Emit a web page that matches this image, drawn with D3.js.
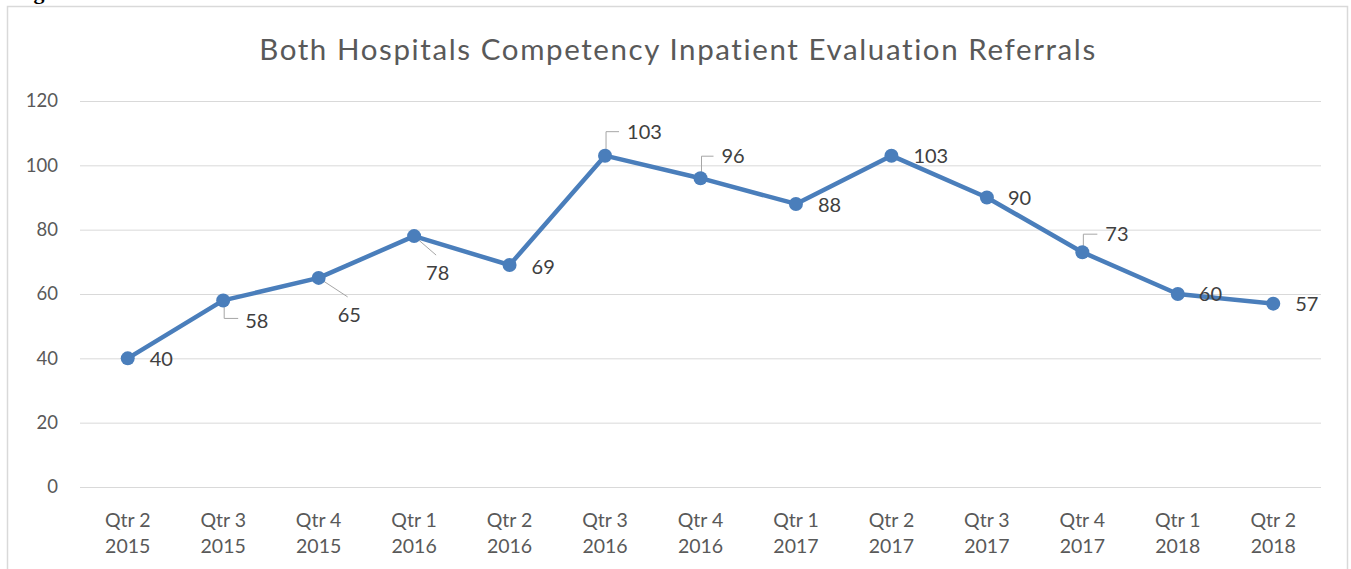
<!DOCTYPE html>
<html>
<head>
<meta charset="utf-8">
<script src="https://cdn.jsdelivr.net/npm/d3@7"></script>
<style>
  body { margin: 0; background: #fff; overflow: hidden; }
  text { font-family: Lato, "Noto Sans", sans-serif; }
</style>
</head>
<body>
<div id="chart"></div>
<script>
// data
var quarters = ["Qtr 2", "Qtr 3", "Qtr 4", "Qtr 1", "Qtr 2", "Qtr 3", "Qtr 4", "Qtr 1", "Qtr 2", "Qtr 3", "Qtr 4", "Qtr 1", "Qtr 2"];
var years    = ["2015", "2015", "2015", "2016", "2016", "2016", "2016", "2017", "2017", "2017", "2017", "2018", "2018"];
var referrals = [40, 58, 65, 78, 69, 103, 96, 88, 103, 90, 73, 60, 57];
var yTicks = [0, 20, 40, 60, 80, 100, 120];

// label placement (Excel moved some labels by hand): [dx, dy, leader]
var labelPlace = [
  [22, 0, null], [22, 20, "down"], [19, 37, "diag"], [12, 37, "diag"], [22, 2, null],
  [22, -24, "up"], [21, -22, "up"], [22, 1, null], [22, 0, null], [21, 0, null],
  [23, -18, "up"], [21, 0, null], [22, 0, null]
];

var W = 1351, H = 569;
var svg = d3.select("#chart").append("svg")
    .attr("width", W)
    .attr("height", H);

// caption of the document, mostly cut off above the frame
svg.append("text")
    .attr("x", 14)
    .attr("y", -1)
    .style("font-family", "'Liberation Serif', serif")
    .style("font-weight", "bold")
    .style("font-size", "22px")
    .text("Figure");

// chart frame
svg.append("rect")
    .attr("x", 7.5).attr("y", 6.5)
    .attr("width", 1340).attr("height", 620)
    .attr("fill", "#fff")
    .attr("stroke", "#d9d9d9")
    .attr("stroke-width", 1.5);

svg.append("text")
    .attr("x", 678)
    .attr("y", 60)
    .attr("text-anchor", "middle")
    .style("font-size", "29.5px")
    .style("letter-spacing", "1.6px")
    .style("fill", "#595959")
    .text("Both Hospitals Competency Inpatient Evaluation Referrals");

var keys = d3.range(referrals.length);

var x = d3.scalePoint()
    .domain(keys)
    .range([80, 1321])
    .padding(0.5);

var y = d3.scaleLinear()
    .domain([0, 120])
    .range([487, 101]);

// gridlines + y labels
var yAxis = svg.append("g")
    .attr("transform", "translate(80,0)")
    .call(d3.axisLeft(y).tickValues(yTicks).tickSize(-1241).tickPadding(22));
yAxis.select(".domain").remove();
yAxis.selectAll("line").attr("stroke", "#d9d9d9").attr("stroke-width", 1);
yAxis.selectAll("text")
    .style("font-size", "18.5px")
    .style("font-family", "Lato, sans-serif")
    .attr("fill", "#595959");

// category labels, two lines each
var xl = svg.append("g").selectAll("text")
    .data(keys)
    .enter().append("text")
      .attr("text-anchor", "middle")
      .style("font-size", "19.5px")
      .style("fill", "#595959");
xl.append("tspan")
    .attr("x", function(d) { return x(d); })
    .attr("y", 527)
    .text(function(d) { return quarters[d]; });
xl.append("tspan")
    .attr("x", function(d) { return x(d); })
    .attr("y", 553)
    .text(function(d) { return years[d]; });

// leader lines
var leaders = svg.append("g")
    .attr("fill", "none")
    .attr("stroke", "#a6a6a6")
    .attr("stroke-width", 1);
keys.forEach(function(i) {
  var p = labelPlace[i], px = x(i), py = y(referrals[i]);
  if (!p[2]) return;
  var lx = px + p[0], ly = py + p[1];
  var path;
  if (p[2] === "down") {
    path = "M" + (px + 1) + "," + (py + 4) + "V" + (ly - 2) + "H" + (lx - 7);
  } else if (p[2] === "up") {
    path = "M" + (px + 1) + "," + (py - 5) + "V" + ly + "H" + (lx - 8);
  } else {
    path = "M" + px + "," + py + "L" + (lx + 10) + "," + (ly - 18);
  }
  leaders.append("path").attr("d", path);
});

// the series
var line = d3.line()
    .x(function(d, i) { return x(i); })
    .y(function(d) { return y(d); });

svg.append("path")
    .datum(referrals)
    .attr("fill", "none")
    .attr("stroke", "#4a7ebb")
    .attr("stroke-width", 4.5)
    .attr("stroke-linejoin", "round")
    .attr("d", line);

svg.append("g").selectAll("circle")
    .data(referrals)
    .enter().append("circle")
      .attr("cx", function(d, i) { return x(i); })
      .attr("cy", function(d) { return y(d); })
      .attr("r", 7)
      .attr("fill", "#4a7ebb");

// data labels
svg.append("g").selectAll("text")
    .data(referrals)
    .enter().append("text")
      .attr("x", function(d, i) { return x(i) + labelPlace[i][0]; })
      .attr("y", function(d, i) { return y(d) + labelPlace[i][1]; })
      .attr("dy", "0.36em")
      .style("font-size", "20px")
      .style("fill", "#404040")
      .text(function(d) { return d; });
</script>
</body>
</html>
